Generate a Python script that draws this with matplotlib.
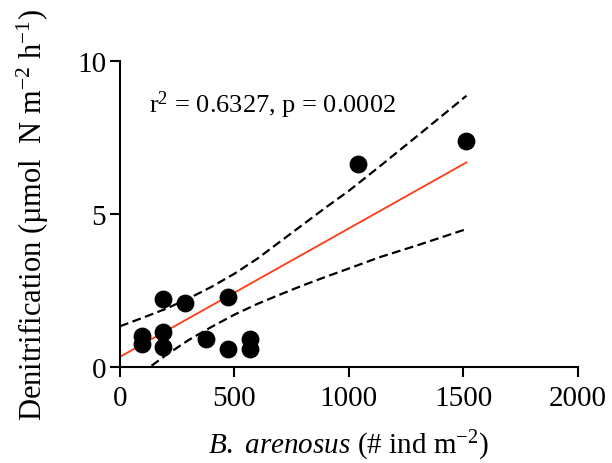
import matplotlib
matplotlib.use("Agg")
import matplotlib.pyplot as plt

plt.rcParams['font.family'] = ['Liberation Serif', 'DejaVu Serif']
plt.rcParams['mathtext.fontset'] = 'custom'
plt.rcParams['mathtext.rm'] = 'Liberation Serif'
plt.rcParams['mathtext.it'] = 'Liberation Serif:italic'

# B. arenosus density (# ind m-2) vs denitrification
density = [95, 95, 188, 284, 189, 189, 473, 378, 473, 568, 568, 1041, 1514]
denitrification = [1.00, 0.75, 2.22, 2.09, 1.13, 0.64, 2.30, 0.92, 0.59, 0.92, 0.59, 6.63, 7.40]

# fitted regression line
fit_x = [0, 1514]
fit_y = [0.33, 6.69]

# 95% confidence band
upper_x = [0, 100, 200, 300, 400, 500, 600, 700, 800, 900, 1000, 1135, 1300, 1514]
upper_y = [1.33, 1.61, 1.90, 2.24, 2.62, 3.05, 3.54, 4.10, 4.66, 5.22, 5.76, 6.56, 7.56, 8.87]
lower_x = [138, 200, 300, 400, 500, 600, 700, 800, 900, 1000, 1135, 1300, 1514]
lower_y = [0.04, 0.38, 0.88, 1.31, 1.71, 2.06, 2.37, 2.67, 2.95, 3.22, 3.59, 3.98, 4.51]

fig = plt.figure(figsize=(6.12, 4.64), dpi=100)
ax = fig.add_axes([0.196, 0.207, 0.748, 0.659])

ax.plot(upper_x, upper_y, color='black', linestyle=(0, (4, 2)), linewidth=1.6)
ax.plot(lower_x, lower_y, color='black', linestyle=(0, (4, 2)), linewidth=1.6)
ax.plot(fit_x, fit_y, color='#ff3b14', linewidth=1.3)
ax.scatter(density, denitrification, s=140, color='black', zorder=3)

ax.set_xlim(0, 2000)
ax.set_ylim(0, 10)
ax.set_xticks([0, 500, 1000, 1500, 2000])
ax.set_yticks([0, 5, 10])

for side in ['top', 'right']:
    ax.spines[side].set_visible(False)
for side in ['left', 'bottom']:
    ax.spines[side].set_linewidth(1.5)
ax.tick_params(direction='out', length=7, width=1.5, labelsize=21)
ax.tick_params(axis='x', pad=6)
ax.tick_params(axis='y', pad=3)

ax.set_xlabel(r'$\mathit{B.}$ $\mathit{arenosus}$ (# ind m$^{-2}$)', fontsize=21, labelpad=12)
ax.set_ylabel('Denitrification (µmol  N m$^{-2}$ h$^{-1}$)', fontsize=22, labelpad=19)

ax.text(125, 8.6, 'r$^2$ = 0.6327, p = 0.0002', fontsize=19, va='center')

fig.savefig('out.png', dpi=100)
